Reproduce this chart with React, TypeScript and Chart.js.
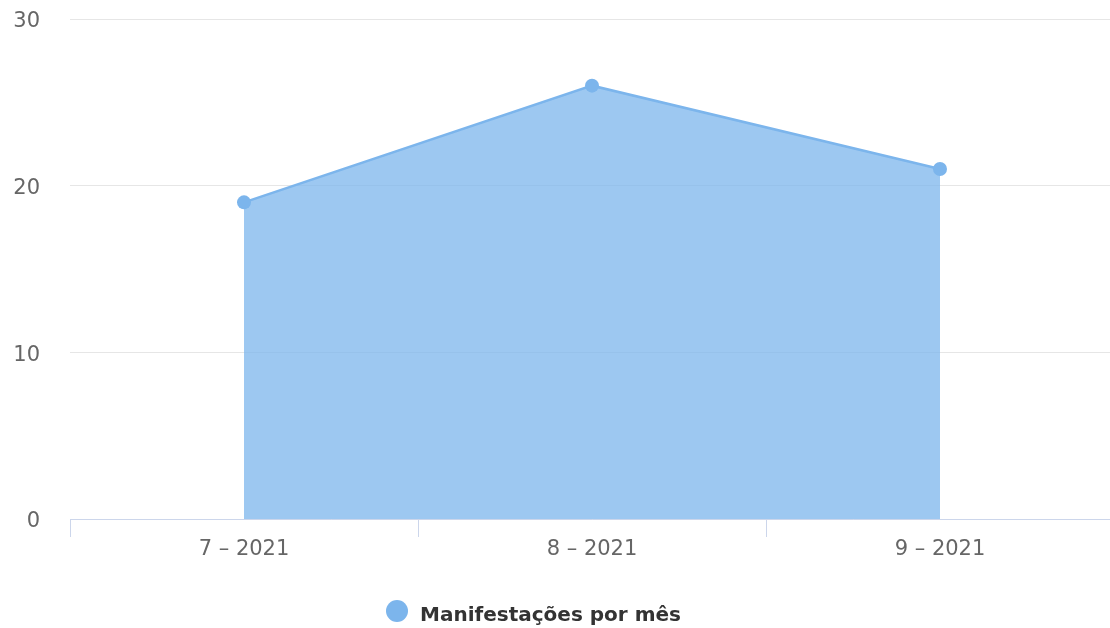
import React, { useEffect, useRef } from "react";
import { Chart, registerables } from "chart.js";

Chart.register(...registerables);

const categories = ["7 – 2021", "8 – 2021", "9 – 2021"];
const values = [19, 26, 21];
const seriesName = "Manifestações por mês";
const yMin = 0;
const yMax = 30;
const yStep = 10;

const FONT = "'DejaVu Sans', sans-serif";
const LINE_COLOR = "#7cb5ec";

export default function App() {
  const ref = useRef<HTMLCanvasElement | null>(null);

  useEffect(() => {
    if (!ref.current) return;
    const chart = new Chart(ref.current, {
      type: "line",
      data: {
        labels: categories,
        datasets: [
          {
            label: seriesName,
            data: values,
            borderColor: LINE_COLOR,
            backgroundColor: "rgba(124,181,236,0.75)",
            borderWidth: 2.5,
            fill: "origin",
            tension: 0,
            pointRadius: 7,
            pointBackgroundColor: LINE_COLOR,
            pointBorderColor: LINE_COLOR,
            pointBorderWidth: 0,
          },
        ],
      },
      options: {
        responsive: false,
        animation: false,
        layout: { autoPadding: false, padding: { top: 19, left: 14, right: 0, bottom: 0 } },
        scales: {
          x: {
            offset: true,
            grid: {
              display: true,
              offset: true,
              drawOnChartArea: false,
              drawTicks: true,
              tickLength: 18,
              color: "#ccd6eb",
              lineWidth: 1,
            },
            border: { display: true, color: "#ccd6eb", width: 1 },
            ticks: {
              font: { family: FONT, size: 21 },
              color: "#666666",
              padding: 0,
              maxRotation: 0,
            },
            afterFit: (scale: any) => {
              scale.height = 109;
              scale.paddingLeft = 0;
              scale.paddingRight = 0;
            },
          },
          y: {
            min: yMin,
            max: yMax,
            ticks: {
              stepSize: yStep,
              font: { family: FONT, size: 21 },
              color: "#666666",
              padding: 30,
              labelOffset: 3,
            },
            grid: { color: "#e6e6e6", lineWidth: 1, drawTicks: false },
            border: { display: false },
            afterFit: (scale: any) => {
              scale.width = 56;
              scale.paddingTop = 12;
              scale.paddingBottom = 12;
            },
          },
        },
        plugins: {
          tooltip: { enabled: false },
          legend: { display: false },
        },
      },
    });
    return () => chart.destroy();
  }, []);

  return (
    <div
      style={{
        position: "fixed",
        left: 0,
        top: 0,
        width: 1110,
        height: 628,
        overflow: "hidden",
        background: "#fff",
      }}
    >
      <canvas ref={ref} width={1114} height={628} style={{ display: "block" }} />
      <div
        style={{
          position: "absolute",
          left: 386,
          top: 600,
          width: 22,
          height: 22,
          borderRadius: "50%",
          background: LINE_COLOR,
        }}
      />
      <div
        style={{
          position: "absolute",
          left: 420,
          top: 602,
          fontFamily: FONT,
          fontWeight: "bold",
          fontSize: 20,
          lineHeight: "24px",
          color: "#333333",
          whiteSpace: "nowrap",
        }}
      >
        {seriesName}
      </div>
    </div>
  );
}
